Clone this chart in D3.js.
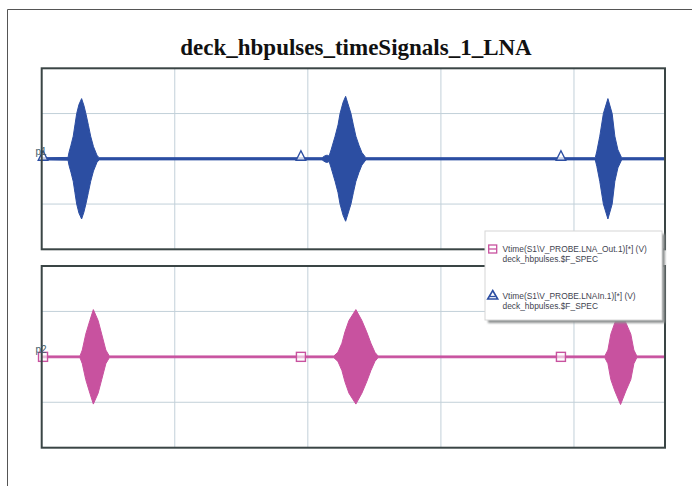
<!DOCTYPE html>
<html>
<head>
<meta charset="utf-8">
<script src="https://cdn.jsdelivr.net/npm/d3@7"></script>
<style>
  html, body { margin: 0; padding: 0; background: #ffffff; }
  svg { display: block; }
</style>
</head>
<body>
<svg id="chart" width="692" height="486"></svg>
<script>
// ---- data ---------------------------------------------------------------
const chartTitle = "deck_hbpulses_timeSignals_1_LNA";

// time axis (ns) and vertical divisions shared by both plots
const xDomain = [0, 46.84];
const xGridTicks = [10, 20, 30, 40];
const yDomain = [-2, 2];
const yGridTicks = [-1, 0, 1];

// LNA input: envelope of the burst waveform (time ns, amplitude V)
const inEnvT = [0, 1.98, 2.05, 2.2, 2.37, 2.5, 2.63, 2.8, 3.0, 3.17, 3.32, 3.51, 3.68, 3.89, 4.15, 4.31,
                21.07, 21.3, 21.45, 21.6, 21.75, 22.05, 22.27, 22.42, 22.65, 22.84, 23.01, 23.24, 23.42, 23.61, 23.84, 24.06, 24.36,
                41.6, 41.72, 41.94, 42.21, 42.55, 42.87, 43.07, 43.3, 43.58, 46.84];
const inEnvA = [0.024, 0.03, 0.14, 0.3, 0.5, 0.75, 1.0, 1.2, 1.33, 1.18, 1.0, 0.74, 0.5, 0.27, 0.08, 0.024,
                0.024, 0.07, 0.08, 0.06, 0.2, 0.5, 0.75, 1.0, 1.25, 1.38, 1.22, 1.0, 0.75, 0.5, 0.3, 0.14, 0.024,
                0.024, 0.17, 0.5, 1.0, 1.33, 1.0, 0.5, 0.2, 0.024, 0.024];

// LNA output: envelope of the amplified, delayed bursts
const outEnvT = [0, 2.88, 3.05, 3.31, 3.62, 3.88, 4.24, 4.51, 4.82, 5.08,
                 21.96, 22.26, 22.56, 22.79, 23.09, 23.61, 24.06, 24.42, 24.74, 25.04, 25.27,
                 42.32, 42.55, 42.77, 43.07, 43.5, 43.9, 44.27, 44.5, 44.72, 46.84];
const outEnvA = [0.02, 0.02, 0.15, 0.5, 0.8, 1.04, 0.8, 0.5, 0.15, 0.02,
                 0.02, 0.1, 0.3, 0.55, 0.8, 1.04, 0.8, 0.55, 0.3, 0.1, 0.02,
                 0.02, 0.15, 0.5, 0.75, 1.05, 0.75, 0.5, 0.15, 0.02, 0.02];

// trace symbol positions (ns)
const inMarkerT = [0.1, 19.48, 39.02];
const outMarkerT = [0.1, 19.48, 39.02];

const panelNames = ["p1", "p2"];
const legendLines = [
  ["Vtime(S1\\V_PROBE.LNA_Out.1)[*] (V)", "deck_hbpulses.$F_SPEC"],
  ["Vtime(S1\\V_PROBE.LNAIn.1)[*] (V)", "deck_hbpulses.$F_SPEC"]
];

// ---- styling ------------------------------------------------------------
const BLUE = "#2c4ea2";
const PINK = "#c8529f";
const GRID = "#c2d0d9";
const FRAME = "#3a4545";

const svg = d3.select("#chart");

// outer page frame
svg.append("path")
  .attr("d", "M7.5,486 L7.5,9.5 L692,9.5")
  .attr("fill", "none").attr("stroke", "#555").attr("stroke-width", 1);

// title
svg.append("text")
  .attr("x", 356).attr("y", 55)
  .attr("text-anchor", "middle")
  .attr("font-family", "'Liberation Serif', 'Times New Roman', serif")
  .attr("font-weight", "bold")
  .attr("font-size", 23)
  .attr("fill", "#111")
  .text(chartTitle);

const panels = [
  { top: 68.3, bottom: 249.3, t: inEnvT, a: inEnvA, color: BLUE, markers: inMarkerT, shape: "tri", name: panelNames[0] },
  { top: 266, bottom: 447.7, t: outEnvT, a: outEnvA, color: PINK, markers: outMarkerT, shape: "sq", name: panelNames[1] }
];
const left = 41.7, right = 665;

const x = d3.scaleLinear().domain(xDomain).range([left, right]);

panels.forEach((p, pi) => {
  const y = d3.scaleLinear().domain(yDomain).range([p.bottom, p.top]);
  const g = svg.append("g");

  const clipId = "clip" + pi;
  svg.append("clipPath").attr("id", clipId)
    .append("rect").attr("x", left).attr("y", p.top)
    .attr("width", right - left).attr("height", p.bottom - p.top);

  g.append("rect").attr("x", left).attr("y", p.top)
    .attr("width", right - left).attr("height", p.bottom - p.top)
    .attr("fill", "#fff");

  // grid
  g.selectAll(".vg").data(xGridTicks).join("line")
    .attr("x1", d => x(d)).attr("x2", d => x(d))
    .attr("y1", p.top).attr("y2", p.bottom)
    .attr("stroke", GRID).attr("stroke-width", 1);
  g.selectAll(".hg").data(yGridTicks).join("line")
    .attr("x1", left).attr("x2", right)
    .attr("y1", d => y(d)).attr("y2", d => y(d))
    .attr("stroke", GRID).attr("stroke-width", 1);

  // burst waveform drawn as its filled envelope
  const idx = d3.range(p.t.length);
  const area = d3.area()
    .x(i => x(p.t[i]))
    .y0(i => y(-p.a[i]))
    .y1(i => y(p.a[i]));
  g.append("path")
    .datum(idx)
    .attr("clip-path", `url(#${clipId})`)
    .attr("d", area)
    .attr("fill", p.color)
    .attr("stroke", p.color)
    .attr("stroke-width", 1)
    .attr("stroke-linejoin", "round");

  // trace symbols
  const y0 = y(0);
  p.markers.forEach(t => {
    const cx = x(t);
    if (p.shape === "tri") {
      g.append("path")
        .attr("d", `M${cx},${y0 - 8} L${cx + 4.8},${y0 + 1.5} L${cx - 4.8},${y0 + 1.5} Z`)
        .attr("fill", "rgba(255,255,255,0.75)")
        .attr("stroke", p.color).attr("stroke-width", 1.4);
    } else {
      g.append("rect")
        .attr("x", cx - 4.5).attr("y", y0 - 4.5)
        .attr("width", 9).attr("height", 9)
        .attr("fill", "rgba(255,255,255,0.6)")
        .attr("stroke", p.color).attr("stroke-width", 1.4);
    }
  });

  // panel border
  g.append("rect").attr("x", left).attr("y", p.top)
    .attr("width", right - left).attr("height", p.bottom - p.top)
    .attr("fill", "none").attr("stroke", FRAME).attr("stroke-width", 2);

  // panel name
  g.append("text")
    .attr("x", 35.5).attr("y", y0 - 4)
    .attr("font-family", "'Liberation Sans', Arial, sans-serif")
    .attr("font-size", 10)
    .attr("fill", "#44606a")
    .text(p.name);
});

// ---- legend -------------------------------------------------------------
const lg = svg.append("g");
const lx = 485, ly = 231, lw = 177, lh = 89;
svg.append("defs").append("filter").attr("id", "soft")
  .append("feGaussianBlur").attr("stdDeviation", 1);
lg.append("rect").attr("x", lx + 3).attr("y", ly + 3).attr("width", lw).attr("height", lh)
  .attr("fill", "#8f9393").attr("filter", "url(#soft)");
lg.append("rect").attr("x", lx).attr("y", ly).attr("width", lw).attr("height", lh)
  .attr("fill", "#fff").attr("stroke", "#d6d6d6").attr("stroke-width", 1);

const entryY = [249, 295.5];
const entryColor = [PINK, BLUE];
entryY.forEach((ey, i) => {
  const mx = 492.7;
  if (i === 0) {
    lg.append("rect").attr("x", mx - 4).attr("y", ey - 4).attr("width", 8).attr("height", 8)
      .attr("fill", "#fff").attr("stroke", entryColor[i]).attr("stroke-width", 1.3);
    lg.append("line").attr("x1", mx - 4).attr("x2", mx + 4).attr("y1", ey).attr("y2", ey)
      .attr("stroke", entryColor[i]).attr("stroke-width", 1.3);
  } else {
    lg.append("path").attr("d", `M${mx},${ey - 5} L${mx + 5},${ey + 3.5} L${mx - 5},${ey + 3.5} Z`)
      .attr("fill", "#fff").attr("stroke", entryColor[i]).attr("stroke-width", 1.6);
    lg.append("line").attr("x1", mx - 3).attr("x2", mx + 3).attr("y1", ey + 1).attr("y2", ey + 1)
      .attr("stroke", entryColor[i]).attr("stroke-width", 1.3);
  }
  legendLines[i].forEach((txt, k) => {
    lg.append("text")
      .attr("x", 502.5).attr("y", ey + 3 + k * 10)
      .attr("font-family", "'Liberation Sans', Arial, sans-serif")
      .attr("font-size", 8.4)
      .attr("fill", "#3f4450")
      .text(txt);
  });
});
</script>
</body>
</html>
